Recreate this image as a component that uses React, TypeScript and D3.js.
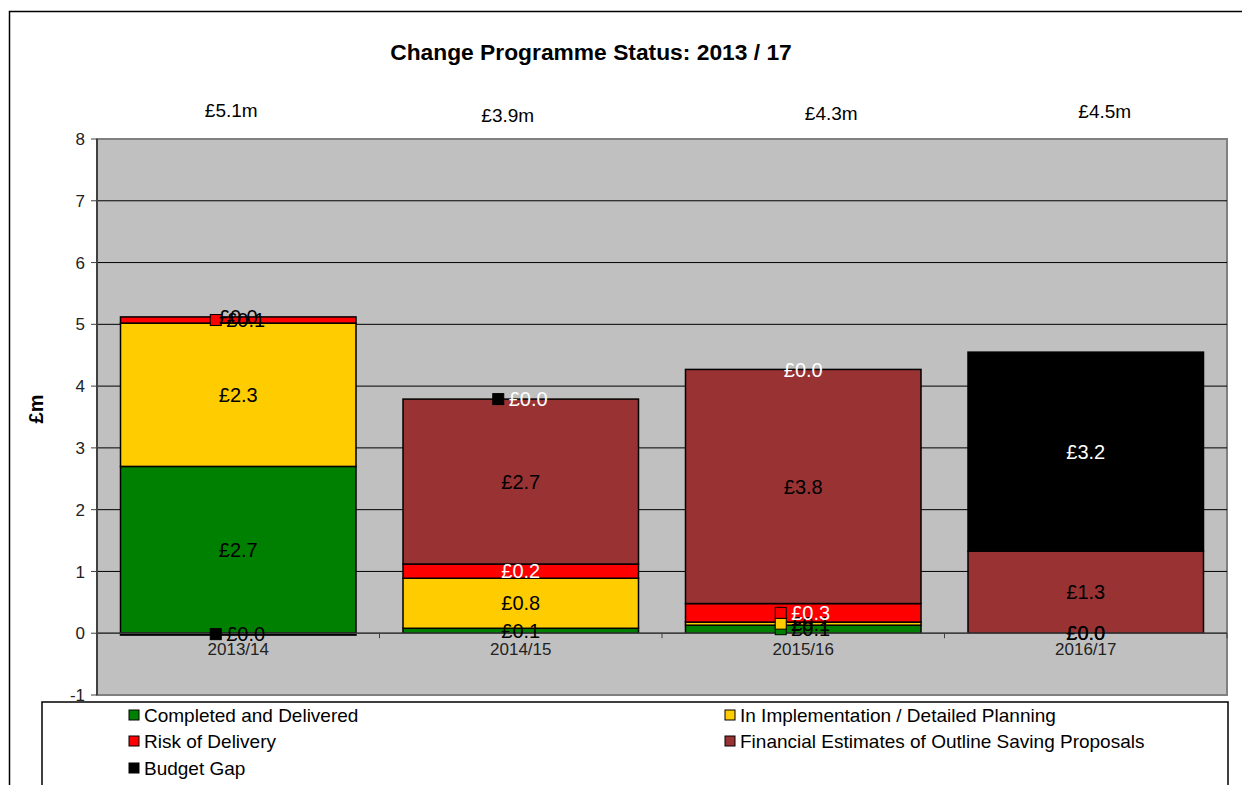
import { useEffect, useRef } from "react";
import * as d3 from "d3";

const categories = ["2013/14", "2014/15", "2015/16", "2016/17"];
const seriesNames = [
  "Completed and Delivered",
  "In Implementation / Detailed Planning",
  "Risk of Delivery",
  "Financial Estimates of Outline Saving Proposals",
  "Budget Gap",
];
const completed = [2.7, 0.08, 0.13, 0.0];
const implementation = [2.32, 0.81, 0.05, 0.0];
const risk = [0.1, 0.23, 0.3, null];
const financial = [0.0, 2.67, 3.79, 1.33];
const budgetGap = [-0.03, 0.0, 0.0, 3.22];
const totals = ["£5.1m", "£3.9m", "£4.3m", "£4.5m"];
const yTicks = [-1, 0, 1, 2, 3, 4, 5, 6, 7, 8];

const colors = ["#008000", "#FFCC00", "#FF0000", "#993333", "#000000"];
const labelColors = ["#000", "#000", "#fff", "#000", "#fff"];
// label quirks copied from the original sheet
const labelOverrides: Record<string, string> = { "2-0": "#000", "4-0": "#000" };
const keyedLabels = new Set(["2-0", "4-0", "4-1", "0-2", "1-2", "2-2"]);
// hand placed total boxes
const totalDx = [-7, -13, 28, 19];
const totalY = [110, 115, 113, 111];

const W = 1242;
const H = 785;
const FONT = "'Liberation Sans', Arial, sans-serif";

const App = () => {
  const ref = useRef<SVGSVGElement>(null);

  useEffect(() => {
    if (!ref.current) return;
    const svg = d3.select(ref.current);
    svg.selectAll("*").remove();

    const left = 97, right = 1227, top = 139, bottom = 695;
    const y = d3.scaleLinear().domain([-1, 8]).range([bottom, top]);
    const p = 47 / 282.5;
    const x = d3.scaleBand<string>().domain(categories).range([left, right]).paddingInner(p).paddingOuter(p / 2);

    const values = [completed, implementation, risk, financial, budgetGap];
    // stack like Excel: zeros sit on the positive pile, negatives go below 0
    const stacked = values.map(() => [] as [number, number][]);
    categories.forEach((_, i) => {
      let pos = 0, neg = 0;
      values.forEach((vals, j) => {
        const v = vals[i] ?? 0;
        if (v >= 0) {
          stacked[j][i] = [pos, pos + v];
          pos += v;
        } else {
          stacked[j][i] = [neg + v, neg];
          neg += v;
        }
      });
    });

    // outer chart frame
    svg.append("rect").attr("x", 9.5).attr("y", 11.5).attr("width", W + 20).attr("height", H + 20)
      .attr("fill", "#fff").attr("stroke", "#000").attr("stroke-width", 1.5);

    svg.append("text").attr("x", 591).attr("y", 60).attr("text-anchor", "middle")
      .attr("font-family", FONT).attr("font-weight", "bold").attr("font-size", 22.8)
      .text("Change Programme Status: 2013 / 17");

    // plot area
    svg.append("rect").attr("x", left).attr("y", top).attr("width", right - left).attr("height", bottom - top)
      .attr("fill", "#C0C0C0").attr("stroke", "#808080").attr("stroke-width", 2);

    svg.append("g").selectAll("line").data(yTicks.filter((t) => t > -1 && t < 8)).join("line")
      .attr("x1", left).attr("x2", right).attr("y1", (d) => y(d)).attr("y2", (d) => y(d))
      .attr("stroke", "#000").attr("stroke-width", 1);

    // y axis
    svg.append("line").attr("x1", left).attr("x2", left).attr("y1", top).attr("y2", bottom)
      .attr("stroke", "#404040").attr("stroke-width", 2);
    const yt = svg.append("g").selectAll("g").data(yTicks).join("g");
    yt.append("line").attr("x1", left - 6).attr("x2", left).attr("y1", (d) => y(d)).attr("y2", (d) => y(d))
      .attr("stroke", "#404040");
    yt.append("text").attr("x", left - 12).attr("y", (d) => y(d)).attr("dy", "0.36em")
      .attr("text-anchor", "end").attr("font-family", FONT).attr("font-size", 17).attr("fill", "#222")
      .text((d) => d);

    svg.append("text").attr("transform", `translate(43,${(top + bottom) / 2 - 8}) rotate(-90)`)
      .attr("text-anchor", "middle").attr("font-family", FONT).attr("font-weight", "bold").attr("font-size", 20)
      .text("£m");

    // bars
    stacked.forEach((layer, j) => {
      svg.append("g").selectAll("rect")
        .data(layer.map((d, i) => ({ d, i })).filter(({ i }) => values[j][i] !== null)).join("rect")
        .attr("x", ({ i }) => x(categories[i])!)
        .attr("width", x.bandwidth())
        .attr("y", ({ d }) => y(d[1]))
        .attr("height", ({ d }) => y(d[0]) - y(d[1]))
        .attr("fill", colors[j]).attr("stroke", "#000").attr("stroke-width", 1.5);
    });

    // x axis at zero
    svg.append("line").attr("x1", left).attr("x2", right).attr("y1", y(0)).attr("y2", y(0))
      .attr("stroke", "#404040").attr("stroke-width", 1.5);
    const step = x.step();
    svg.append("g").selectAll("line").data(d3.range(categories.length + 1)).join("line")
      .attr("x1", (d) => left + d * step).attr("x2", (d) => left + d * step)
      .attr("y1", y(0)).attr("y2", y(0) + 5).attr("stroke", "#404040");
    svg.append("g").selectAll("text").data(categories).join("text")
      .attr("x", (d) => x(d)! + x.bandwidth() / 2).attr("y", y(0) + 22)
      .attr("text-anchor", "middle").attr("font-family", FONT).attr("font-size", 17).attr("fill", "#222")
      .text((d) => d);

    // data labels
    stacked.forEach((layer, j) => {
      layer.forEach((d, i) => {
        const v = values[j][i];
        if (v === null) return;
        const key = `${j}-${i}`;
        const cx = x(categories[i])! + x.bandwidth() / 2;
        const cy = y((d[0] + d[1]) / 2);
        const txt = `£${Math.abs(v).toFixed(1)}`;
        const fill = labelOverrides[key] ?? labelColors[j];
        const g = svg.append("g");
        if (keyedLabels.has(key)) {
          g.append("rect").attr("x", cx - 28).attr("y", cy - 5.5).attr("width", 11).attr("height", 11)
            .attr("fill", colors[j]).attr("stroke", "#000").attr("stroke-width", 1);
          g.append("text").attr("x", cx - 12).attr("y", cy).attr("dy", "0.36em")
            .attr("font-family", FONT).attr("font-size", 20).attr("fill", fill).text(txt);
        } else {
          g.append("text").attr("x", cx).attr("y", cy).attr("dy", "0.36em").attr("text-anchor", "middle")
            .attr("font-family", FONT).attr("font-size", 20).attr("fill", fill).text(txt);
        }
      });
    });

    // totals above bars
    svg.append("g").selectAll("text").data(totals).join("text")
      .attr("x", (_, i) => x(categories[i])! + x.bandwidth() / 2 + totalDx[i])
      .attr("y", (_, i) => totalY[i]).attr("dy", "0.36em").attr("text-anchor", "middle")
      .attr("font-family", FONT).attr("font-size", 19).text((d) => d);

    // legend
    svg.append("rect").attr("x", 42).attr("y", 702).attr("width", 1186).attr("height", 90)
      .attr("fill", "#fff").attr("stroke", "#000").attr("stroke-width", 1.5);
    const pos = [
      [129, 715], [725, 715], [129, 741], [725, 741], [129, 768],
    ];
    const lg = svg.append("g").selectAll("g").data(seriesNames).join("g")
      .attr("transform", (_, i) => `translate(${pos[i][0]},${pos[i][1]})`);
    lg.append("rect").attr("x", 0).attr("y", -5).attr("width", 10).attr("height", 10)
      .attr("fill", (_, i) => colors[i]).attr("stroke", "#000");
    lg.append("text").attr("x", 15).attr("y", 0).attr("dy", "0.36em")
      .attr("font-family", FONT).attr("font-size", 19).text((d) => d);

    return () => {
      svg.selectAll("*").remove();
    };
  }, []);

  return (
    <svg ref={ref} width={W} height={H} style={{ position: "absolute", left: 0, top: 0, background: "#fff" }} />
  );
};

export default App;
